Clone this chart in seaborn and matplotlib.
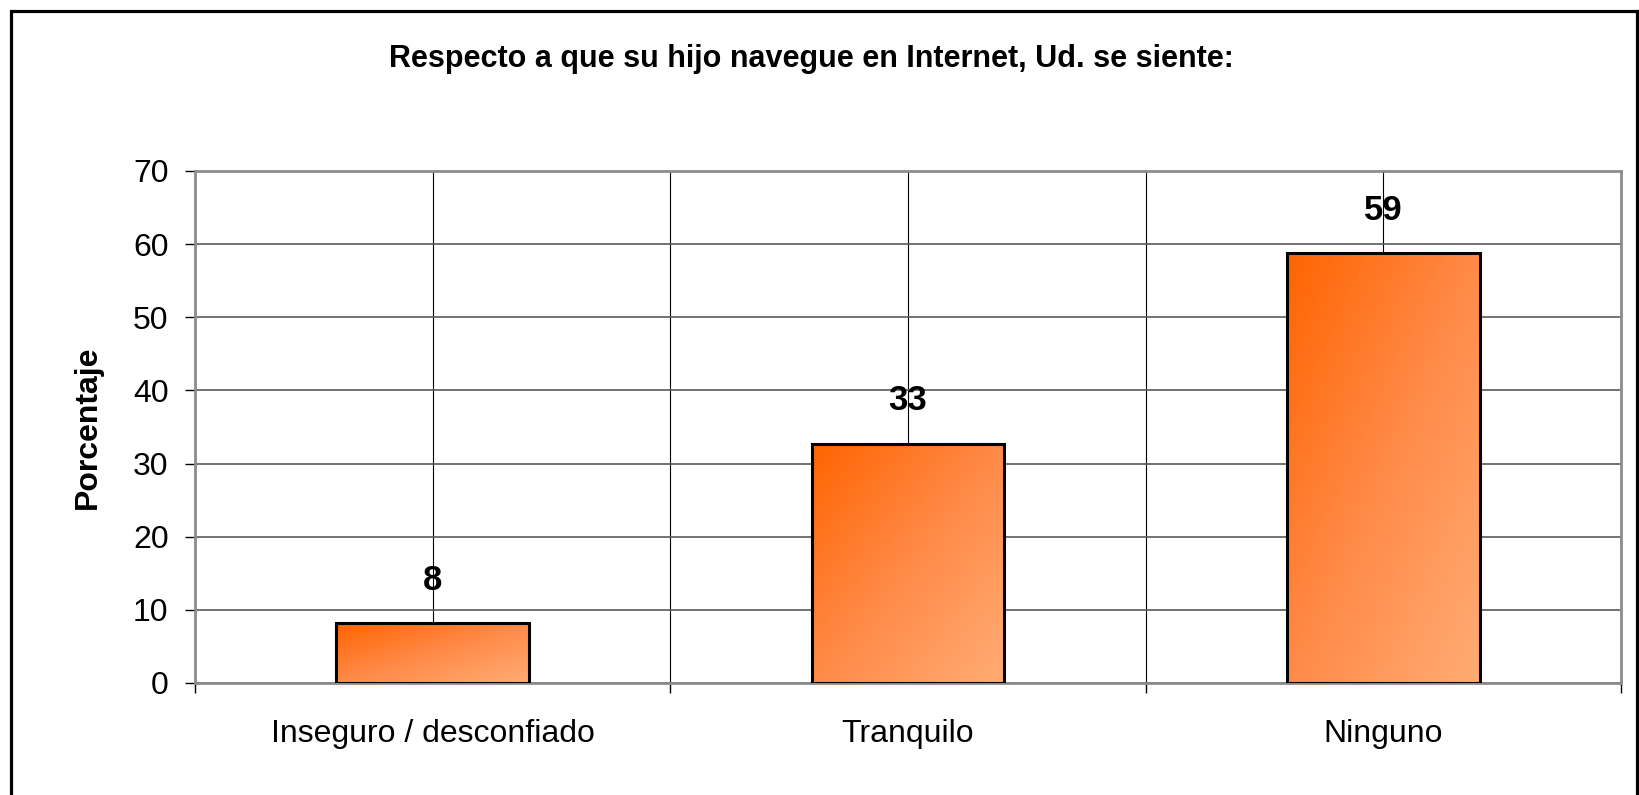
import matplotlib
matplotlib.use('Agg')
import matplotlib.pyplot as plt
import seaborn as sns
import numpy as np
import pandas as pd
from matplotlib.colors import LinearSegmentedColormap
from matplotlib.patches import Rectangle
from matplotlib.ticker import FixedLocator

# ==================== Data ====================
categorias = ['Inseguro / desconfiado', 'Tranquilo', 'Ninguno']
porcentajes = [8.2, 32.7, 58.8]
etiquetas = ['8', '33', '59']
y_ticks = [0, 10, 20, 30, 40, 50, 60, 70]
titulo = 'Respecto a que su hijo navegue en Internet, Ud. se siente:'
y_titulo = 'Porcentaje'

# ==================== Style ====================
sns.set_theme(style='white')
plt.rcParams['font.family'] = ['Liberation Sans', 'DejaVu Sans']

W, H = 1639, 795
fig = plt.figure(figsize=(W / 100, H / 100), dpi=100)
fig.patch.set_facecolor('white')

# plot area in pixel coordinates of the reference
left, right, top, bottom = 195, 1621, 171, 683
ax = fig.add_axes([left / W, 1 - bottom / H, (right - left) / W, (bottom - top) / H])

df = pd.DataFrame({'categoria': categorias, 'porcentaje': porcentajes})
sns.barplot(data=df, x='categoria', y='porcentaje', ax=ax, width=0.405,
            color='#FF8030', edgecolor='black', linewidth=2.2, zorder=4)

# diagonal orange gradient inside each bar
cmap = LinearSegmentedColormap.from_list('naranja', ['#FF6400', '#FF8A48', '#FFAC74'])
u = np.linspace(0, 1, 200)
uu, vv = np.meshgrid(u, u)
grad = (uu + vv) / 2
for patch in ax.patches:
    x0, y0 = patch.get_x(), patch.get_y()
    w, h = patch.get_width(), patch.get_height()
    img = ax.imshow(grad, extent=[x0, x0 + w, y0, y0 + h], origin='upper',
                    cmap=cmap, vmin=0, vmax=1, aspect='auto', zorder=3.5,
                    interpolation='bilinear')
    img.set_clip_path(patch)
    patch.set_facecolor('none')
ax.set_xlim(-0.5, len(categorias) - 0.5)
ax.set_ylim(0, 70)

# value labels
for i, (val, lab) in enumerate(zip(porcentajes, etiquetas)):
    ax.annotate(lab, (i, val), xytext=(0, 19), textcoords='offset points',
                ha='center', va='bottom', fontsize=25, fontweight='bold',
                color='black', zorder=6)

# grid lines
ax.set_yticks(y_ticks)
ax.yaxis.grid(True, color='#5A5A5A', linewidth=1.2)
ax.xaxis.set_minor_locator(FixedLocator([-0.5, 0.5, 1.5, 2.5]))
ax.xaxis.grid(True, which='both', color='black', linewidth=0.8)
ax.set_axisbelow(True)

# ticks
ax.tick_params(axis='y', which='major', left=True, direction='out', length=7,
               width=1, color='black', labelsize=23, pad=12, labelcolor='black')
ax.tick_params(axis='x', which='major', bottom=False, length=0,
               labelsize=23, pad=26, labelcolor='black')
ax.tick_params(axis='x', which='minor', bottom=True, direction='out', length=7,
               width=1, color='black')

ax.set_xlabel('')
ax.set_ylabel(y_titulo, fontsize=23, fontweight='bold', labelpad=22, color='black')

for side in ['left', 'right', 'top', 'bottom']:
    ax.spines[side].set_visible(True)
    ax.spines[side].set_color('#8C8C8C')
    ax.spines[side].set_linewidth(2.0)

# title
fig.text(0.495, 1 - 67 / H, titulo, ha='center', va='baseline',
         fontsize=22, fontweight='bold', color='black')

# outer chart frame
frame = Rectangle((11 / W, -0.05), (1637 - 11) / W, 1 - 11 / H + 0.05,
                  transform=fig.transFigure, fill=False, edgecolor='black',
                  linewidth=2.3, zorder=10)
fig.patches.append(frame)

fig.savefig('out.png', dpi=100)
